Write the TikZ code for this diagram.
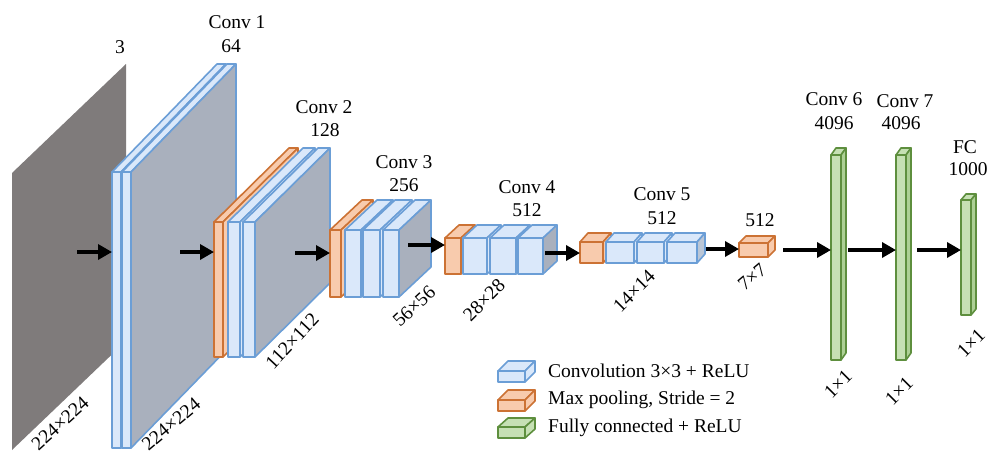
\documentclass[tikz,border=0pt]{standalone}
\usepackage{fontspec}
\setmainfont{Liberation Serif}
\usetikzlibrary{arrows.meta,calc}

\definecolor{bluefill}{HTML}{DAE8FA}
\definecolor{blueline}{HTML}{6B9ED6}
\definecolor{blueside}{HTML}{A9B0BD}
\definecolor{bluesidelight}{HTML}{BAC6D6}
\definecolor{orangefill}{HTML}{F8CBAD}
\definecolor{orangeline}{HTML}{CC7234}
\definecolor{greenfill}{HTML}{C6E0B4}
\definecolor{greenside}{HTML}{ADD095}
\definecolor{greenline}{HTML}{5E8F3E}
\definecolor{inputgray}{HTML}{7F7B7B}

\tikzset{
  face/.style={line width=1.6pt, line join=round},
  convface/.style={face, draw=blueline, fill=bluefill},
  poolface/.style={face, draw=orangeline, fill=orangefill},
  fcface/.style={face, draw=greenline, fill=greenfill},
  arr/.style={line width=3.4pt, -{Triangle[length=14pt,width=15pt]}},
  lbl/.style={font=\fontsize{19.5}{22}\selectfont, inner sep=0pt,
              text height=13pt, text depth=0pt},
  dimlbl/.style={lbl},
}

% cuboid: front face is a named node, top and right faces recede up-right
% #1 name, #2 left x, #3 right x, #4 top y, #5 bottom y,
% #6 depth dx, #7 depth dy, #8 face style, #9 right-face fill
\newcommand\cubeblock[9]{%
  \node[#8, inner sep=0pt, outer sep=0pt,
        minimum width={(#3-#2)*1pt}, minimum height={(#5-#4)*1pt},
        anchor=north west] (#1) at (#2,#4) {};
  \filldraw[#8] (#1.north west) -- ++(#6,-#7) -- ++(#3-#2,0)
        -- (#1.north east) -- cycle;
  \filldraw[#8, fill=#9] (#1.north east) -- ++(#6,-#7) -- ++(0,#5-#4)
        -- (#1.south east) -- cycle;
}

\begin{document}
\begin{tikzpicture}[x=1pt, y=-1pt]
\useasboundingbox (0,0) rectangle (991,453);

% input image plane
\coordinate (in-bl) at (12,450);
\coordinate (in-tl) at (12,173);
\coordinate (in-tr) at (126,64);
\coordinate (in-br) at (126,341);
\fill[inputgray] (in-bl) -- (in-tl) -- (in-tr) -- (in-br) -- cycle;

% Conv 1
\cubeblock{c1a}{112}{121}{172}{448}{105}{108}{convface}{bluefill}
\cubeblock{c1b}{122}{131}{172}{448}{105}{108}{convface}{blueside}

% Conv 2
\cubeblock{p2}{214}{223}{222}{357}{75}{74}{poolface}{orangefill}
\cubeblock{c2a}{228}{240}{222}{357}{75}{74}{convface}{bluefill}
\cubeblock{c2b}{243}{255}{222}{357}{75}{74}{convface}{blueside}

% Conv 3
\cubeblock{p3}{330}{341}{230}{297}{32}{30}{poolface}{orangefill}
\cubeblock{c3a}{345}{361}{230}{297}{32}{30}{convface}{bluefill}
\cubeblock{c3b}{363}{380}{230}{297}{32}{30}{convface}{bluefill}
\cubeblock{c3c}{383}{399}{230}{297}{32}{30}{convface}{blueside}

% Conv 4
\cubeblock{p4}{445}{461}{238}{274}{14}{13}{poolface}{orangefill}
\cubeblock{c4a}{463}{487}{238}{274}{14}{13}{convface}{bluefill}
\cubeblock{c4b}{490}{516}{238}{274}{14}{13}{convface}{bluefill}
\cubeblock{c4c}{518}{543}{238}{274}{14}{13}{convface}{blueside}

% Conv 5
\cubeblock{p5}{580}{603}{242}{263}{8}{9}{poolface}{orangefill}
\cubeblock{c5a}{606}{634}{242}{263}{8}{9}{convface}{bluefill}
\cubeblock{c5b}{637}{664}{242}{263}{8}{9}{convface}{bluefill}
\cubeblock{c5c}{667}{697}{242}{263}{8}{9}{convface}{bluesidelight}

% last pooling
\cubeblock{p6}{739}{768}{243}{257}{7}{7}{poolface}{orangefill}

% fully connected layers
\cubeblock{f6}{831}{841}{155}{360}{5}{7}{fcface}{greenside}
\cubeblock{f7}{896}{906}{155}{360}{5}{7}{fcface}{greenside}
\cubeblock{f8}{961}{971}{200}{315}{5}{6}{fcface}{greenside}

% arrow tails
\coordinate (a1) at (77,252);
\coordinate (a2) at (180,252);
\coordinate (a3) at (295,253);
\coordinate (a4) at (408,245);
\coordinate (a5) at (545,253);
\coordinate (a6) at (706,249);
\coordinate (a7) at (783,250);
\coordinate (a8) at (848,250);
\coordinate (a9) at (917,250);

\draw[arr] (a1) -- (a1 -| c1a.west);
\draw[arr] (a2) -- (a2 -| p2.west);
\draw[arr] (a3) -- (a3 -| p3.west);
\draw[arr] (a4) -- (a4 -| p4.west);
\draw[arr] (a5) -- (a5 -| p5.west);
\draw[arr] (a6) -- (a6 -| p6.west);
\draw[arr] (a7) -- (a7 -| f6.west);
\draw[arr] (a8) -- (a8 -| f7.west);
\draw[arr] (a9) -- (a9 -| f8.west);

% layer titles
\node[lbl] (t0)  at (120,47)  {3};
\node[lbl] (t1a) at (237,22)  {Conv 1};
\node[lbl] (t1b) at (231,46)  {64};
\node[lbl] (t2a) at (324,107) {Conv 2};
\node[lbl] (t2b) at (325,130) {128};
\node[lbl] (t3a) at (404,162) {Conv 3};
\node[lbl] (t3b) at (404,185) {256};
\node[lbl] (t4a) at (527,187) {Conv 4};
\node[lbl] (t4b) at (527,210) {512};
\node[lbl] (t5a) at (662,194) {Conv 5};
\node[lbl] (t5b) at (662,218) {512};
\node[lbl] (t6)  at (760,220) {512};
\node[lbl] (t7a) at (834,99)  {Conv 6};
\node[lbl] (t7b) at (834,123) {4096};
\node[lbl] (t8a) at (905,101) {Conv 7};
\node[lbl] (t8b) at (901,123) {4096};
\node[lbl] (t9a) at (965,147) {FC};
\node[lbl] (t9b) at (968,169) {1000};

% spatial sizes
\node[dimlbl, rotate=42] (d0) at (60,423)  {224×224};
\node[dimlbl, rotate=40] (d1) at (171,424) {224×224};
\node[dimlbl, rotate=47] (d2) at (292,341) {112×112};
\node[dimlbl, rotate=43] (d3) at (414,306) {56×56};
\node[dimlbl, rotate=45] (d4) at (484,300) {28×28};
\node[dimlbl, rotate=45] (d5) at (634,291) {14×14};
\node[dimlbl, rotate=40] (d6) at (752,277) {7×7};
\node[dimlbl, rotate=45] (d7) at (838,384) {1×1};
\node[dimlbl, rotate=45] (d8) at (899,391) {1×1};
\node[dimlbl, rotate=45] (d9) at (971,343) {1×1};

% legend
\cubeblock{lg1}{498}{525}{371}{382}{10}{10}{convface}{bluefill}
\cubeblock{lg2}{498}{525}{400}{411}{10}{10}{poolface}{orangefill}
\cubeblock{lg3}{498}{525}{427}{438}{10}{9}{fcface}{greenfill}
\node[lbl, anchor=west] (lt1) at (548,371) {Convolution 3×3 + ReLU};
\node[lbl, anchor=west] (lt2) at (548,398) {Max pooling, Stride = 2};
\node[lbl, anchor=west] (lt3) at (548,426) {Fully connected + ReLU};
\end{tikzpicture}
\end{document}
